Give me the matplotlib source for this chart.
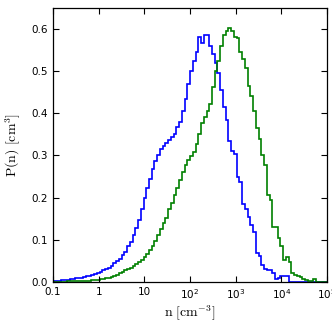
import numpy as np
import matplotlib
matplotlib.use('Agg')
import matplotlib.pyplot as plt

# bin edges in log10(n), 100 bins from 0.1 to 1e5
log_edges = np.linspace(-1, 5, 101)

# P(n) per bin
p_blue = [
    0.002, 0.003, 0.003, 0.004, 0.004, 0.005, 0.006, 0.007, 0.008, 0.009,
    0.010, 0.012, 0.013, 0.015, 0.017, 0.019, 0.021, 0.024, 0.027, 0.030,
    0.034, 0.038, 0.044, 0.049, 0.055, 0.063, 0.071, 0.085, 0.095, 0.112,
    0.128, 0.148, 0.172, 0.198, 0.222, 0.245, 0.268, 0.287, 0.302, 0.315,
    0.322, 0.330, 0.336, 0.343, 0.352, 0.368, 0.380, 0.405, 0.435, 0.470,
    0.500, 0.525, 0.545, 0.582, 0.568, 0.585, 0.587, 0.560, 0.540, 0.520,
    0.495, 0.455, 0.415, 0.385, 0.335, 0.310, 0.304, 0.250, 0.238, 0.185,
    0.172, 0.155, 0.135, 0.118, 0.068, 0.062, 0.040, 0.030, 0.027, 0.029,
    0.021, 0.006, 0.009, 0.013, 0.015, 0.014, 0.0, 0.0, 0.0, 0.0,
    0.0, 0.0, 0.0, 0.0, 0.0, 0.0, 0.0, 0.0, 0.0, 0.0,
]
p_green = [
    0.0005, 0.0005, 0.0006, 0.0007, 0.0008, 0.0009, 0.001, 0.0012, 0.0014, 0.0016,
    0.0018, 0.002, 0.0025, 0.003, 0.0035, 0.004, 0.005, 0.006, 0.007, 0.009,
    0.010, 0.012, 0.015, 0.017, 0.020, 0.023, 0.027, 0.030, 0.034, 0.038,
    0.042, 0.046, 0.052, 0.060, 0.066, 0.075, 0.086, 0.098, 0.112, 0.126,
    0.140, 0.152, 0.172, 0.188, 0.205, 0.222, 0.242, 0.260, 0.278, 0.290,
    0.298, 0.308, 0.328, 0.350, 0.378, 0.392, 0.405, 0.422, 0.462, 0.500,
    0.525, 0.560, 0.585, 0.595, 0.602, 0.595, 0.580, 0.578, 0.545, 0.528,
    0.508, 0.465, 0.440, 0.405, 0.365, 0.340, 0.300, 0.278, 0.207, 0.195,
    0.131, 0.130, 0.104, 0.084, 0.052, 0.060, 0.048, 0.022, 0.017, 0.013,
    0.011, 0.006, 0.005, 0.002, 0.002, 0.006, 0.0, 0.0, 0.0, 0.0,
]

xtick_vals = [0.1, 1, 10, 1e2, 1e3, 1e4, 1e5]
xtick_labels = ['0.1', '1', '10', r'$\mathregular{10^2}$', r'$\mathregular{10^3}$',
                r'$\mathregular{10^4}$', r'$\mathregular{10^5}$']
ytick_vals = [0.0, 0.1, 0.2, 0.3, 0.4, 0.5, 0.6]

plt.rcParams['mathtext.fontset'] = 'cm'

fig = plt.figure(figsize=(3.32, 3.32), dpi=100)
ax = fig.add_axes([0.16, 0.151, 0.825, 0.825])

edges = 10 ** log_edges
ax.stairs(p_blue, edges, color='#0000ff', linewidth=1.2)
ax.stairs(p_green, edges, color='#008000', linewidth=1.2)

ax.set_xscale('log')
ax.set_xlim(0.1, 1e5)
ax.set_ylim(0, 0.65)
ax.set_xticks(xtick_vals)
ax.set_xticklabels(xtick_labels)
ax.xaxis.set_minor_locator(matplotlib.ticker.NullLocator())
ax.set_yticks(ytick_vals)
ax.set_yticklabels(['%.1f' % v for v in ytick_vals])
ax.tick_params(direction='in', top=True, right=True, length=4, width=0.8,
               labelsize=7.5, pad=4)
for s in ax.spines.values():
    s.set_linewidth(0.9)

ax.set_xlabel(r'$\mathrm{n\ [cm^{-3}]}$', fontsize=10, labelpad=2)
ax.set_ylabel(r'$\mathrm{P(n)\ [cm^{3}]}$', fontsize=10, labelpad=6)

fig.savefig('out.png', dpi=100)
